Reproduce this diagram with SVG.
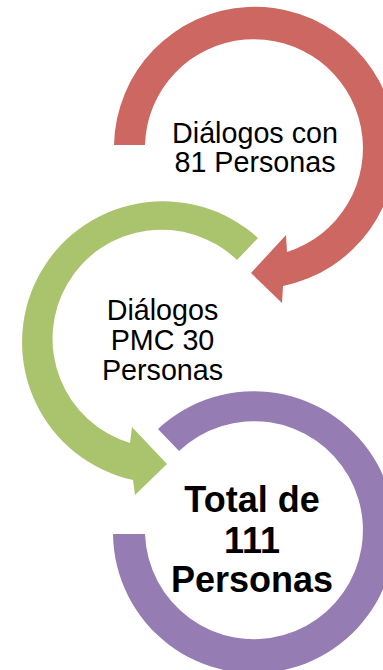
<svg xmlns="http://www.w3.org/2000/svg" width="383" height="670" viewBox="0 0 383 670">
<style>
.t{font-family:"Liberation Sans",Arial,sans-serif;font-size:28.7px;fill:#000;text-anchor:middle}
.b{font-family:"Liberation Sans",Arial,sans-serif;font-size:36px;font-weight:bold;fill:#000;text-anchor:middle}
</style>
<rect width="383" height="670" fill="#fff"/>
<g id="connectors"></g>
<g id="node1">
<path d="M114 145 A141 141 0 1 1 283 286 L282 303 L251 273 L286 235 L287 252 A109 109 0 1 0 145 145 Z" fill="#CD6762"/>
<text class="t" x="255" y="143">Diálogos con</text>
<text class="t" x="255" y="172">81 Personas</text>
</g>
<g id="node2">
<path d="M258 238 A141 141 0 1 0 133 480 L135 495 L167 464 L132 427 L130 443 A109 109 0 1 1 237 260 Z" fill="#AAC46D"/>
<text class="t" x="162.5" y="320">Diálogos</text>
<text class="t" x="162.5" y="349.5">PMC 30</text>
<text class="t" x="162.5" y="379.5">Personas</text>
</g>
<g id="node3">
<path d="M158 429 A141 141 0 1 1 113 534 L145 534 A109 109 0 1 0 179 451 Z" fill="#957CB2"/>
<text class="b" x="252" y="512">Total de</text>
<text class="b" x="252" y="553">111</text>
<text class="b" x="252" y="592">Personas</text>
</g>
</svg>
